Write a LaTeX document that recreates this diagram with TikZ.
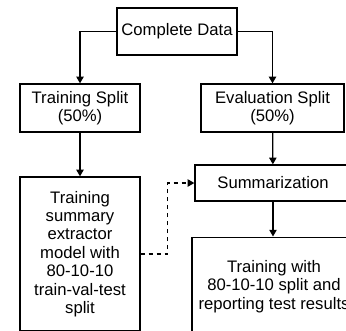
\documentclass[tikz,border=0pt]{standalone}
\usepackage{fontspec}
\setmainfont{Liberation Sans}
\usetikzlibrary{arrows, arrows.meta}
\usetikzlibrary{calc}

\tikzset{
  stage/.style={draw, line width=1pt, align=center, inner sep=0pt,
    font=\fontsize{12.5}{13.8}\selectfont},
  flow/.style={line width=0.9pt, -{Triangle[width=5.5pt, length=5pt]}},
}

\begin{document}
\begin{tikzpicture}[x=0.75pt, y=-0.75pt]
      \fill[white] (0,0) rectangle (346,330);
      \clip (0,0) rectangle (346,330);

      \node[stage, minimum width=90pt, minimum height=35.25pt] (data) at (177,31.5) {Complete Data};
      \node[stage, minimum width=90pt, minimum height=36pt] (train) at (80,108) {Training Split\\(50\%)};
      \node[stage, minimum width=107.25pt, minimum height=36pt] (eval) at (272.5,108) {Evaluation Split\\(50\%)};
      \node[stage, minimum width=117pt, minimum height=27pt] (summ) at (273,183) {Summarization};
      \node[stage, minimum width=90pt, minimum height=115.5pt] (model) at (80,254) {Training\\summary\\extractor\\model with\\80-10-10\\train-val-test\\split};
      \node[stage, minimum width=123pt, minimum height=74pt] (test) at (274,286.5) {Training with\\80-10-10 split and\\reporting test results};

      \draw[flow] (data.west) -| (train.north);
      \draw[flow] (data.east) -| (eval.north);
      \draw[flow] (train) -- (model);
      \draw[flow] (eval) -- (summ);
      \draw[flow] (summ.south) -- (summ.south |- test.north);
      \draw[flow, dashed] (model.east) -- ++(27,0) |- (summ.west);
    \end{tikzpicture}
\end{document}
